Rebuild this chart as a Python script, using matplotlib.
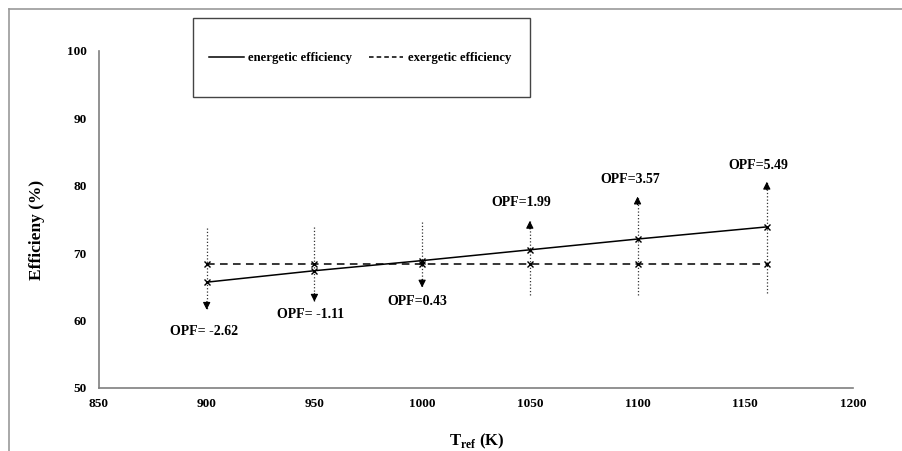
import numpy as np
import matplotlib
matplotlib.use('Agg')
import matplotlib.pyplot as plt
from matplotlib.lines import Line2D
from matplotlib.patches import Rectangle

plt.rcParams['font.family'] = ['Liberation Serif', 'DejaVu Serif']
plt.rcParams['font.weight'] = 'bold'
plt.rcParams['mathtext.fontset'] = 'custom'
plt.rcParams['mathtext.rm'] = 'Liberation Serif:bold'
plt.rcParams['mathtext.bf'] = 'Liberation Serif:bold'

# data
t_ref = [900, 950, 1000, 1050, 1100, 1160]
energetic = [65.7, 67.4, 68.9, 70.5, 72.1, 73.9]
exergetic = [68.4, 68.4, 68.4, 68.4, 68.4, 68.4]

opf_labels = ['OPF= -2.62', 'OPF= -1.11', 'OPF=0.43', 'OPF=1.99', 'OPF=3.57', 'OPF=5.49']
arrow_tail = [73.7, 73.9, 74.7, 63.8, 63.8, 64.1]
arrow_tip = [61.6, 62.8, 64.9, 74.8, 78.4, 80.6]
label_x = [899, 948, 998, 1046, 1096.5, 1156]
label_y = [58.4, 60.9, 62.8, 77.5, 81.0, 83.0]

x_ticks = [850, 900, 950, 1000, 1050, 1100, 1150, 1200]
y_ticks = [50, 60, 70, 80, 90, 100]

fig = plt.figure(figsize=(9.03, 4.51), dpi=100)
ax = fig.add_axes([0.1096, 0.1397, 0.835, 0.7473])

spine_col = '#7f7f7f'

# arrows (dotted stem + solid head)
for x, a, b in zip(t_ref, arrow_tail, arrow_tip):
    ax.plot([x, x], [a, b], ls=':', color='#333333', lw=0.9, zorder=1)
    d = 1.2 if b < a else -1.2
    ax.annotate('', xy=(x, b), xytext=(x, b + d),
                arrowprops=dict(arrowstyle='-|>', color='black', lw=0.8,
                                mutation_scale=11, shrinkA=0, shrinkB=0))

ax.plot(t_ref, energetic, color='black', lw=1.1, marker='x', ms=5, mew=1.0, zorder=3)
ax.plot(t_ref, exergetic, color='black', lw=1.1, ls=(0, (5, 3.5)), marker='x', ms=5, mew=1.0, zorder=3)

for x, y, s in zip(label_x, label_y, opf_labels):
    ax.text(x, y, s, ha='center', va='center', fontsize=10, fontweight='bold')

ax.set_xlim(850, 1200)
ax.set_ylim(50, 100)
ax.set_xticks(x_ticks)
ax.set_yticks(y_ticks)
ax.tick_params(length=0, labelsize=9.5)
ax.tick_params(axis='y', pad=9)
ax.tick_params(axis='x', pad=7)
for lab in ax.get_xticklabels() + ax.get_yticklabels():
    lab.set_fontweight('bold')

for s in ['top', 'right']:
    ax.spines[s].set_visible(False)
for s in ['left', 'bottom']:
    ax.spines[s].set_color(spine_col)
    ax.spines[s].set_linewidth(1.2)

ax.set_ylabel('Efficieny (%)', fontsize=12.5, fontweight='bold', va='center')
ax.yaxis.set_label_coords(-0.0818, 0.47)
ax.set_xlabel(r'T$_{\mathrm{ref}}$ (K)', fontsize=12, fontweight='bold', va='center')
ax.xaxis.set_label_coords(0.501, -0.159)

# legend box
fig.patches.append(Rectangle((0.2137, 0.785), 0.3733, 0.175, transform=fig.transFigure,
                             fill=False, edgecolor='#444444', lw=1.0))
handles = [Line2D([], [], color='black', lw=1.1),
           Line2D([], [], color='black', lw=1.1, ls=(0, (3, 2)))]
fig.legend(handles, ['energetic efficiency', 'exergetic efficiency'], loc='center',
           bbox_to_anchor=(0.399, 0.871), ncol=2, frameon=False,
           prop=dict(size=9.2, weight='bold'), handlelength=2.7,
           handletextpad=0.35, columnspacing=1.3)

# outer frame (top and left edge)
fig.add_artist(Line2D([0.01, 0.01], [0.0, 0.98], transform=fig.transFigure, color='#999999', lw=1.2))
fig.add_artist(Line2D([0.01, 1.0], [0.98, 0.98], transform=fig.transFigure, color='#999999', lw=1.2))

fig.savefig('out.png', dpi=100)
